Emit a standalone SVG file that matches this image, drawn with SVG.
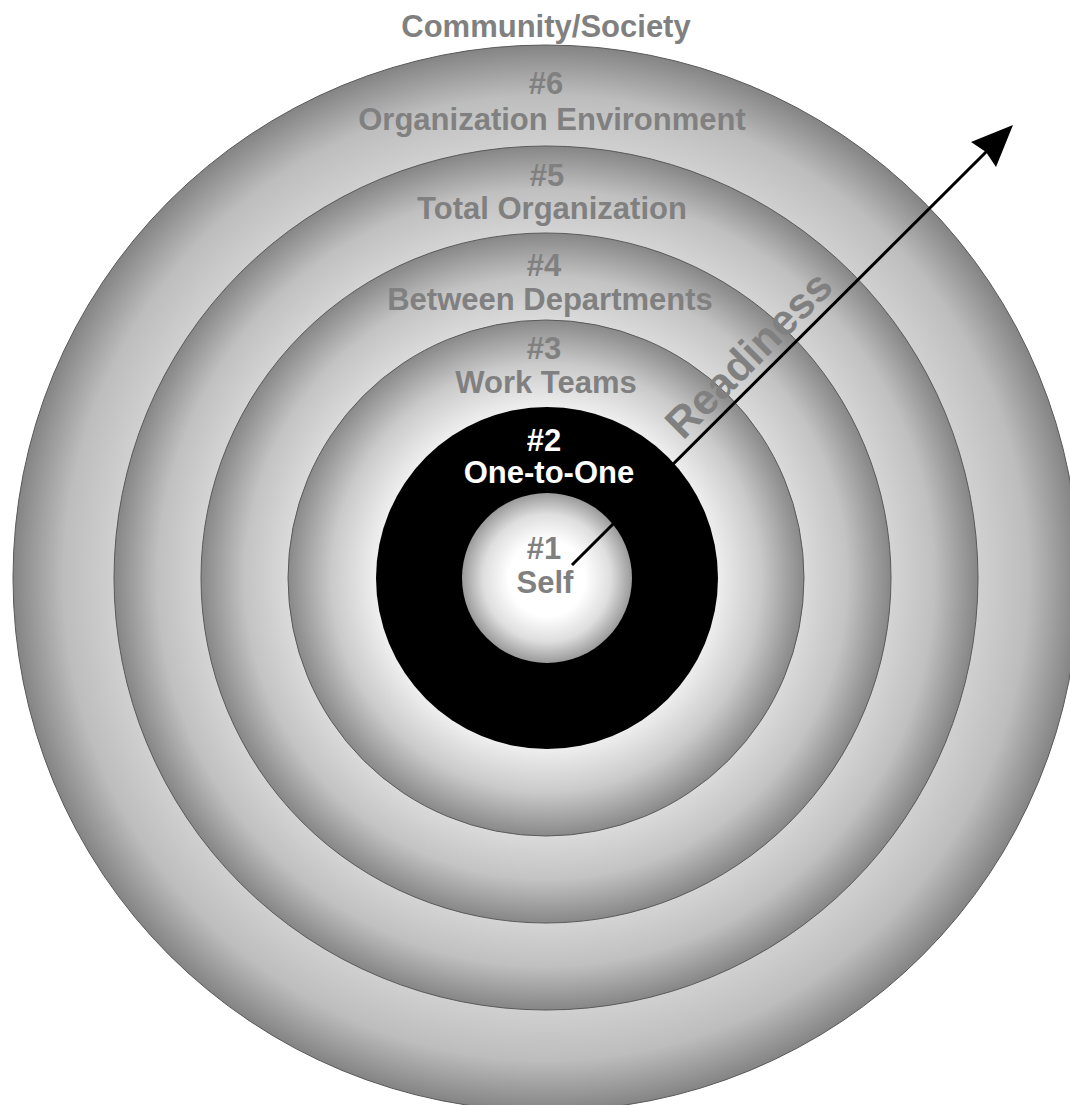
<svg xmlns="http://www.w3.org/2000/svg" width="1070" height="1105" viewBox="0 0 1070 1105">
  <style>
    .ring { stroke: #5a5a5a; stroke-width: 1; }
    .lbl { font-family: "Liberation Sans", Arial, Helvetica, sans-serif; font-weight: bold; font-size: 31px; fill: #808080; text-anchor: middle; }
    .inv { fill: #ffffff; }
    .conn { stroke: #000000; stroke-width: 3; fill: none; }
  </style>
  <defs>
    <radialGradient id="g6" gradientUnits="userSpaceOnUse" cx="546" cy="578" r="533">
      <stop offset="0.8105" stop-color="#d0d0d0"/>
      <stop offset="0.905" stop-color="#bdbdbd"/>
      <stop offset="1" stop-color="#848484"/>
    </radialGradient>
    <radialGradient id="g5" gradientUnits="userSpaceOnUse" cx="546" cy="578" r="432">
      <stop offset="0.7986" stop-color="#d4d4d4"/>
      <stop offset="0.899" stop-color="#c0c0c0"/>
      <stop offset="1" stop-color="#868686"/>
    </radialGradient>
    <radialGradient id="g4" gradientUnits="userSpaceOnUse" cx="546" cy="578" r="345">
      <stop offset="0.748" stop-color="#dadada"/>
      <stop offset="0.874" stop-color="#c3c3c3"/>
      <stop offset="1" stop-color="#878787"/>
    </radialGradient>
    <radialGradient id="g3" gradientUnits="userSpaceOnUse" cx="546" cy="578" r="258">
      <stop offset="0.663" stop-color="#eeeeee"/>
      <stop offset="0.831" stop-color="#cacaca"/>
      <stop offset="1" stop-color="#898989"/>
    </radialGradient>
    <radialGradient id="g1" gradientUnits="userSpaceOnUse" cx="547" cy="578" r="85">
      <stop offset="0" stop-color="#ffffff"/>
      <stop offset="0.45" stop-color="#ffffff"/>
      <stop offset="0.75" stop-color="#dedede"/>
      <stop offset="1" stop-color="#9a9a9a"/>
    </radialGradient>
  </defs>

  <rect width="1070" height="1105" fill="#ffffff"/>

  <g id="ring6">
    <circle class="ring" cx="546" cy="578" r="533" fill="url(#g6)"/>
    <text class="lbl" x="546" y="37">Community/Society</text>
    <text class="lbl" x="546" y="94">#6</text>
    <text class="lbl" x="552" y="130">Organization Environment</text>
  </g>
  <g id="ring5">
    <circle class="ring" cx="546" cy="578" r="432" fill="url(#g5)"/>
    <text class="lbl" x="547" y="186">#5</text>
    <text class="lbl" x="552" y="219">Total Organization</text>
  </g>
  <g id="ring4">
    <circle class="ring" cx="546" cy="578" r="345" fill="url(#g4)"/>
    <text class="lbl" x="544" y="276">#4</text>
    <text class="lbl" x="550" y="310">Between Departments</text>
  </g>
  <g id="ring3">
    <circle class="ring" cx="546" cy="578" r="258" fill="url(#g3)"/>
    <text class="lbl" x="544" y="359">#3</text>
    <text class="lbl" x="546" y="393">Work Teams</text>
  </g>
  <g id="ring2">
    <circle cx="547" cy="578" r="171" fill="#000000"/>
    <text class="lbl inv" x="544" y="451">#2</text>
    <text class="lbl inv" x="549" y="483">One-to-One</text>
  </g>
  <g id="ring1">
    <circle cx="547" cy="578" r="85" fill="url(#g1)"/>
    <text class="lbl" x="544" y="559">#1</text>
    <text class="lbl" x="545" y="593">Self</text>
  </g>

  <g id="readiness-label">
    <text class="lbl" style="text-anchor:start;font-size:43px" transform="translate(683,441) rotate(-45)">Readiness</text>
  </g>

  <g id="connectors">
    <line class="conn" x1="572" y1="565" x2="987" y2="151"/>
    <path d="M1013,125 L971,142 L986,152 L996,167 Z" fill="#000000"/>
  </g>
</svg>
